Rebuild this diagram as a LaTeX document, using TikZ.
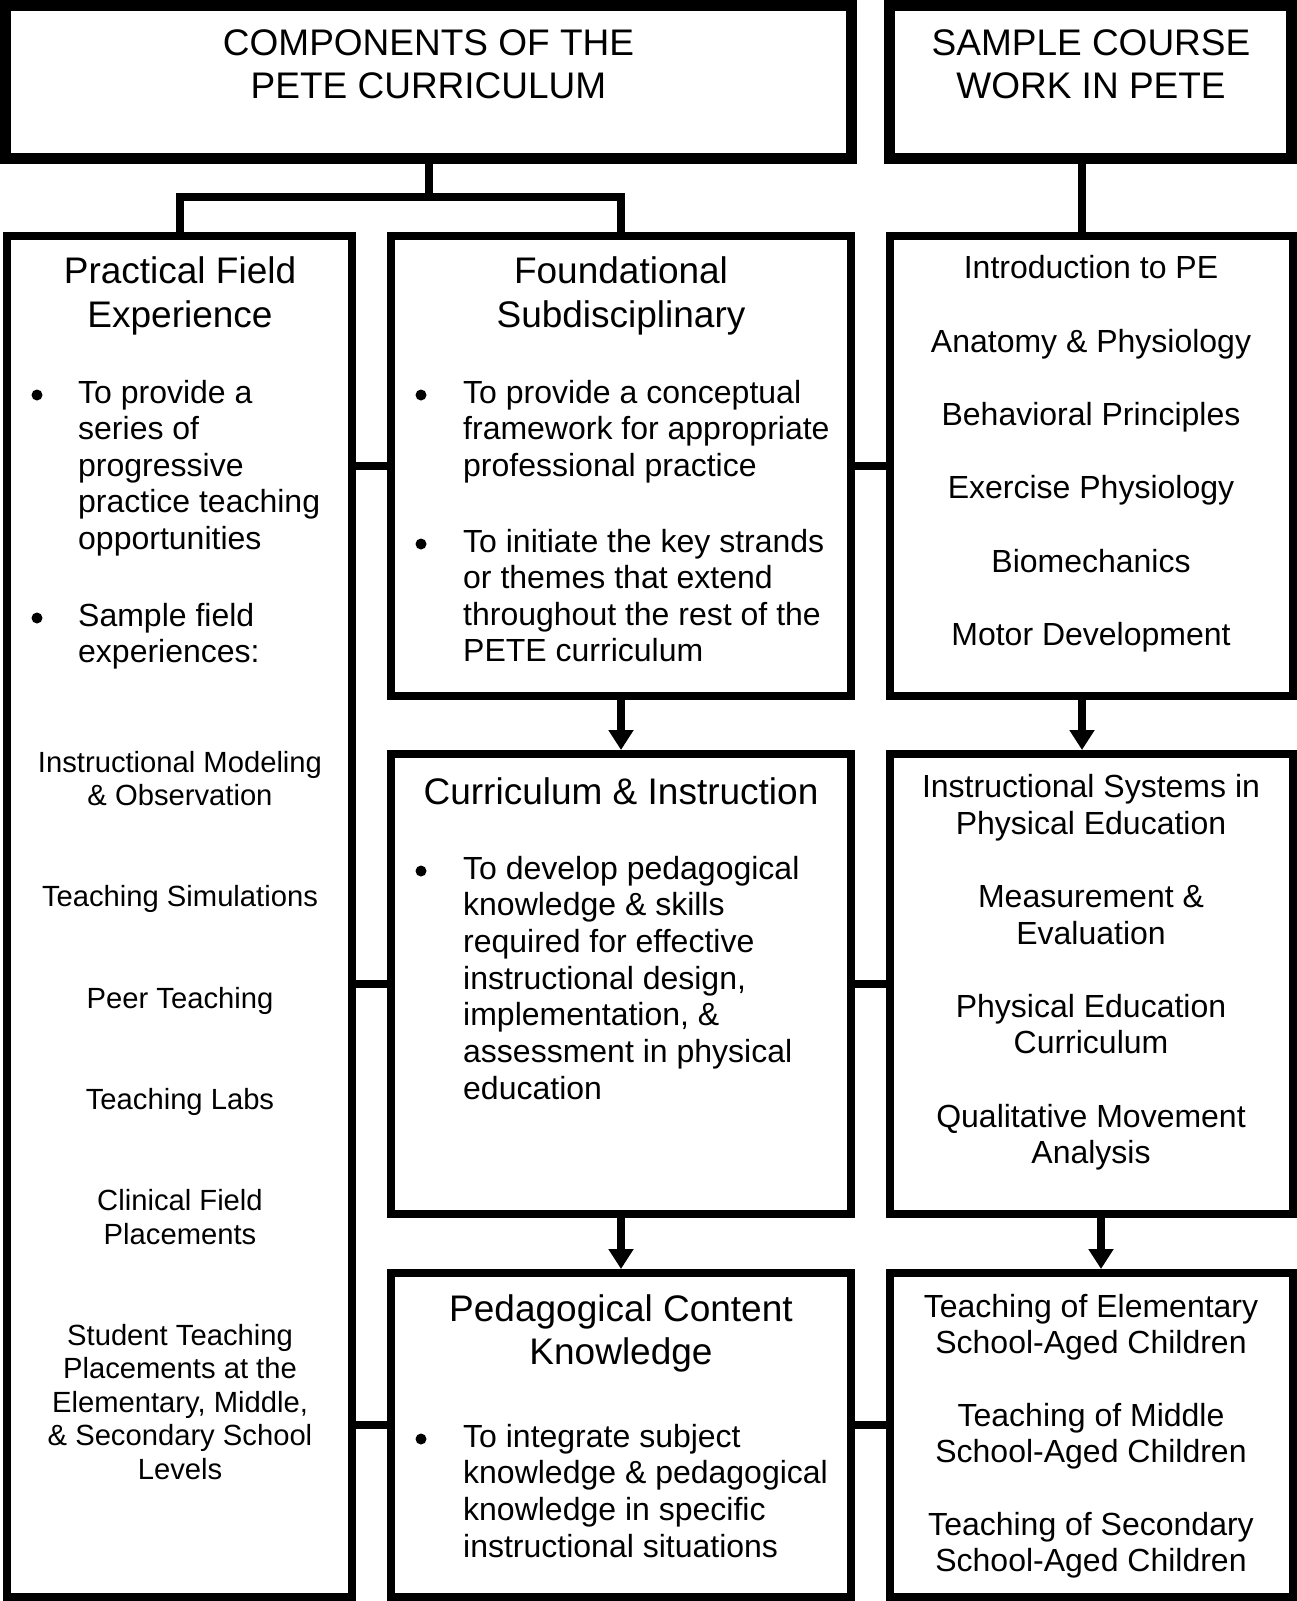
\documentclass[tikz,border=0pt]{standalone}
\usepackage{fontspec}
\setmainfont{Liberation Sans}
\usetikzlibrary{arrows.meta}

\tikzset{
  topbox/.style={draw, rectangle, line width=11pt, inner sep=0pt},
  panel/.style={draw, rectangle, line width=8pt, inner sep=0pt},
  link/.style={line width=8pt},
  flow/.style={line width=8pt, -{Triangle[width=24pt,length=20pt]}},
  ttl/.style={font=\fontsize{37}{44}\selectfont, anchor=base, inner sep=0pt},
  body/.style={font=\fontsize{32}{36.6}\selectfont, anchor=base, inner sep=0pt},
  bodyl/.style={body, anchor=base west},
  small/.style={font=\fontsize{29.2}{33.6}\selectfont, anchor=base, inner sep=0pt},
  dot/.style={circle, fill, inner sep=0pt, minimum size=11pt},
}

\begin{document}
\begin{tikzpicture}[x=1pt, y=-1pt]
\useasboundingbox (0,0) rectangle (1297,1601);

% heading boxes
\node[topbox, minimum width=846pt, minimum height=153pt] (tl) at (428.5,82) {};
\node[topbox, minimum width=402pt, minimum height=153pt] (tr) at (1090.5,82) {};

% component panels
\node[panel, minimum width=345pt, minimum height=1361pt] (lbox) at (179.5,916.5) {};
\node[panel, minimum width=460pt, minimum height=460pt] (m1) at (621,466) {};
\node[panel, minimum width=460pt, minimum height=460pt] (m2) at (621,984) {};
\node[panel, minimum width=460pt, minimum height=324pt] (m3) at (621,1435) {};
\node[panel, minimum width=403pt, minimum height=460pt] (r1) at (1091.5,466) {};
\node[panel, minimum width=403pt, minimum height=460pt] (r2) at (1091.5,984) {};
\node[panel, minimum width=403pt, minimum height=324pt] (r3) at (1091.5,1435) {};

% tree below the left heading
\coordinate (split) at (428.5,197);
\draw[link] (tl.south) -- (split);
\draw[link] (lbox.north) |- (split) -| (m1.north);

% stem below the right heading
\coordinate (ra) at (1082,0);
\coordinate (rb) at (1101,0);
\draw[link] (tr.south -| ra) -- (r1.north -| ra);

% downward flow
\draw[flow] (m1.south) -- (m2.north);
\draw[flow] (m2.south) -- (m3.north);
\draw[flow] (r1.south -| ra) -- (r2.north -| ra);
\draw[flow] (r2.south -| rb) -- (r3.north -| rb);

% cross links between columns
\coordinate (row3) at (0,1425);
\draw[link] (lbox.east |- m1.west) -- (m1.west);
\draw[link] (m1.east) -- (r1.west |- m1.east);
\draw[link] (lbox.east |- m2.west) -- (m2.west);
\draw[link] (m2.east) -- (r2.west |- m2.east);
\draw[link] (lbox.east |- row3) -- (m3.west |- row3);
\draw[link] (m3.east |- row3) -- (r3.west |- row3);

% heading texts
\node[ttl] (tl-1) at (428.5,55) {COMPONENTS OF THE};
\node[ttl] (tl-2) at (428.5,98) {PETE CURRICULUM};
\node[ttl] (tr-1) at (1091,55) {SAMPLE COURSE};
\node[ttl] (tr-2) at (1091,98) {WORK IN PETE};

% practical field experience
\node[ttl] (lh-1) at (180,283) {Practical Field};
\node[ttl] (lh-2) at (180,327) {Experience};
\node[dot] (lb-1) at (37,395) {};
\node[dot] (lb-2) at (37,618) {};
\foreach \yy/\tx [count=\i] in {403/To provide a, 439.5/series of, 476/progressive,
    512.5/practice teaching, 549/opportunities, 626/Sample field, 662.5/experiences:}
  \node[bodyl] (lt-\i) at (78,\yy) {\tx};
\foreach \yy/\tx [count=\i] in {772/Instructional Modeling, 805.5/\& Observation,
    906/Teaching Simulations, 1008/Peer Teaching, 1109/Teaching Labs,
    1210/Clinical Field, 1244/Placements, 1345/Student Teaching,
    1378.6/Placements at the, 1412.2/{Elementary, Middle,},
    1445.8/\& Secondary School, 1479.4/Levels}
  \node[small] (ls-\i) at (180,\yy) {\tx};

% foundational subdisciplinary
\node[ttl] (m1h-1) at (621,283) {Foundational};
\node[ttl] (m1h-2) at (621,327) {Subdisciplinary};
\node[dot] (m1b-1) at (421,395) {};
\node[dot] (m1b-2) at (421,544) {};
\foreach \yy/\tx [count=\i] in {403/To provide a conceptual, 439.5/framework for appropriate,
    476/professional practice, 552/To initiate the key strands,
    588.5/or themes that extend, 625/throughout the rest of the, 661.5/PETE curriculum}
  \node[bodyl] (m1t-\i) at (463,\yy) {\tx};

% curriculum and instruction
\node[ttl] (m2h-1) at (621,804) {Curriculum \& Instruction};
\node[dot] (m2b-1) at (421,871) {};
\foreach \yy/\tx [count=\i] in {879/To develop pedagogical, 915.7/knowledge \& skills,
    952.4/required for effective, 989.1/{instructional design,},
    1025.8/{implementation, \&}, 1062.5/assessment in physical, 1099.2/education}
  \node[bodyl] (m2t-\i) at (463,\yy) {\tx};

% pedagogical content knowledge
\node[ttl] (m3h-1) at (621,1321.5) {Pedagogical Content};
\node[ttl] (m3h-2) at (621,1364.5) {Knowledge};
\node[dot] (m3b-1) at (421,1439) {};
\foreach \yy/\tx [count=\i] in {1447/To integrate subject, 1483.7/knowledge \& pedagogical,
    1520.4/knowledge in specific, 1557.1/instructional situations}
  \node[bodyl] (m3t-\i) at (463,\yy) {\tx};

% sample course work
\foreach \yy/\tx [count=\i] in {278.5/Introduction to PE, 352/Anatomy \& Physiology,
    425.3/Behavioral Principles, 498.7/Exercise Physiology, 572/Biomechanics,
    645.5/Motor Development}
  \node[body] (r1t-\i) at (1091,\yy) {\tx};
\foreach \yy/\tx [count=\i] in {797.5/Instructional Systems in, 834/Physical Education,
    907.3/Measurement \&, 944/Evaluation, 1017/Physical Education, 1053.7/Curriculum,
    1127/Qualitative Movement, 1163.5/Analysis}
  \node[body] (r2t-\i) at (1091,\yy) {\tx};
\foreach \yy/\tx [count=\i] in {1317/Teaching of Elementary, 1353/School-Aged Children,
    1426/Teaching of Middle, 1462/School-Aged Children,
    1535/Teaching of Secondary, 1571/School-Aged Children}
  \node[body] (r3t-\i) at (1091,\yy) {\tx};
\end{tikzpicture}
\end{document}
